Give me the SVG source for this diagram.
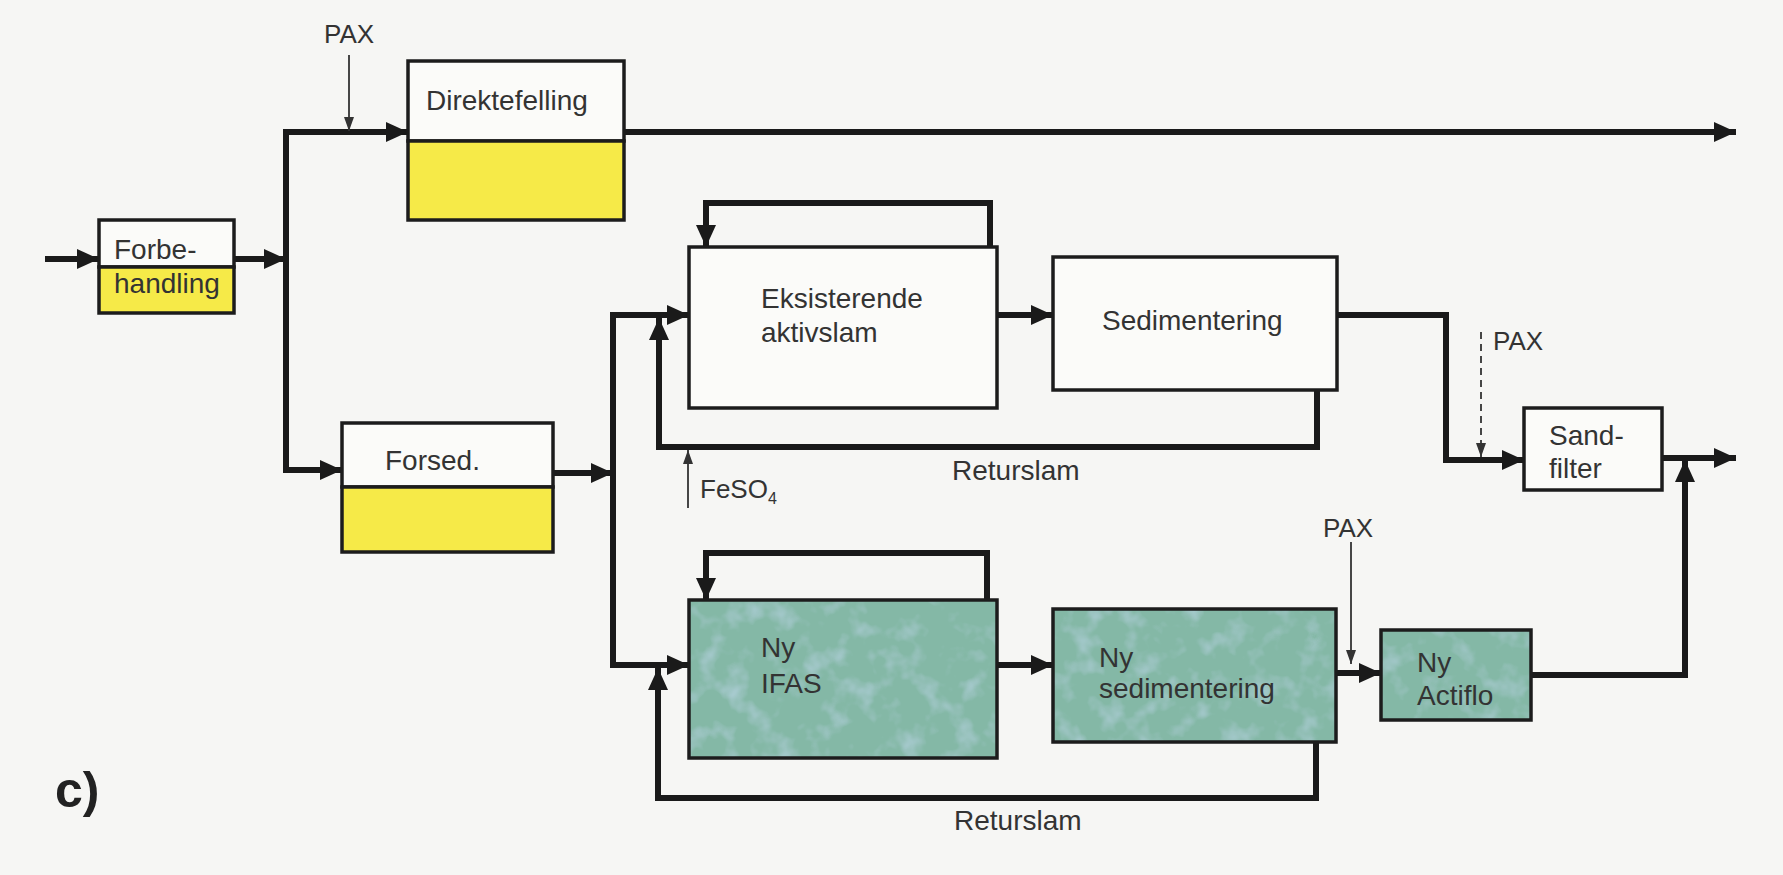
<svg xmlns="http://www.w3.org/2000/svg" width="1783" height="875" viewBox="0 0 1783 875">
  <defs>
    <style>
      .box { stroke: #1c1c1c; stroke-width: 3.5; }
      .frame { fill: none; stroke: #1c1c1c; stroke-width: 3.5; }
      .white { fill: #fbfbf9; }
      .yellow { fill: #f6ea48; }
      .mottle { fill: #84b8a6; filter: url(#mottle); }
      .lbl { font-family: "Liberation Sans", Arial, sans-serif; font-size: 28px; fill: #333; }
      .small { font-family: "Liberation Sans", Arial, sans-serif; font-size: 26px; fill: #333; }
      .flow { fill: none; stroke: #1a1a1a; stroke-width: 6; stroke-linejoin: miter; marker-end: url(#ah); }
      .thin { fill: none; stroke: #333; stroke-width: 1.8; marker-end: url(#ahs); }
      .dash { stroke-dasharray: 7 5; }
    </style>
    <marker id="ah" markerUnits="userSpaceOnUse" markerWidth="24" markerHeight="22" refX="22" refY="11" orient="auto">
      <path d="M0,1 L22,11 L0,21 Z" fill="#1a1a1a"/>
    </marker>
    <marker id="ahs" markerUnits="userSpaceOnUse" markerWidth="15" markerHeight="12" refX="14" refY="6" orient="auto">
      <path d="M0,1 L14,6 L0,11 Z" fill="#333"/>
    </marker>
    <filter id="mottle" x="0" y="0" width="1" height="1">
      <feTurbulence type="fractalNoise" baseFrequency="0.04" numOctaves="3" seed="7" result="n"/>
      <feColorMatrix in="n" type="matrix" values="0 0 0 0 0.45  0 0 0 0 0.64  0 0 0 0 0.72  1.8 0 0 0 -0.9" result="blue"/>
      <feComposite in="blue" in2="SourceGraphic" operator="atop"/>
    </filter>
  </defs>
  <rect x="0" y="0" width="1783" height="875" fill="#f6f6f4"/>

  <g id="connectors">
    <path class="flow" d="M45 259 H99"/>
    <path class="flow" d="M234 259 H286"/>
    <path class="flow" d="M286 259 V132 H408"/>
    <path class="flow" d="M286 259 V470 H342"/>
    <path class="flow" d="M624 132 H1736"/>
    <path class="thin" d="M349 55 V131"/>
    <path class="flow" d="M553 473 H613"/>
    <path class="flow" d="M613 473 V315 H689"/>
    <path class="flow" d="M613 473 V665 H689"/>
    <path class="flow" d="M990 247 V203 H706 V247"/>
    <path class="flow" d="M997 315 H1053"/>
    <path class="flow" d="M1317 390 V447 H659 V318"/>
    <path class="thin" d="M688 508 V450"/>
    <path class="flow" d="M1337 315 H1446 V460 H1524"/>
    <path class="thin dash" d="M1481 332 V457"/>
    <path class="flow" d="M1662 458 H1736"/>
    <path class="flow" d="M987 600 V553 H706 V600"/>
    <path class="flow" d="M997 665 H1053"/>
    <path class="flow" d="M1316 742 V798 H658 V668"/>
    <path class="flow" d="M1336 673 H1381"/>
    <path class="thin" d="M1351 542 V664"/>
    <path class="flow" d="M1531 675 H1685 V460"/>
  </g>

  <g id="forbehandling">
    <rect class="box white" x="99" y="220" width="135" height="47"/>
    <rect class="box yellow" x="99" y="267" width="135" height="46"/>
    <text class="lbl" x="114" y="259">Forbe-</text>
    <text class="lbl" x="114" y="293">handling</text>
  </g>

  <g id="direktefelling">
    <rect class="box white" x="408" y="61" width="216" height="80"/>
    <rect class="box yellow" x="408" y="141" width="216" height="79"/>
    <text class="lbl" x="426" y="110">Direktefelling</text>
  </g>

  <g id="forsed">
    <rect class="box white" x="342" y="423" width="211" height="64"/>
    <rect class="box yellow" x="342" y="487" width="211" height="65"/>
    <text class="lbl" x="385" y="470">Forsed.</text>
  </g>

  <g id="eksisterende">
    <rect class="box white" x="689" y="247" width="308" height="161"/>
    <text class="lbl" x="761" y="308">Eksisterende</text>
    <text class="lbl" x="761" y="342">aktivslam</text>
  </g>

  <g id="sedimentering">
    <rect class="box white" x="1053" y="257" width="284" height="133"/>
    <text class="lbl" x="1102" y="330">Sedimentering</text>
  </g>

  <g id="sandfilter">
    <rect class="box white" x="1524" y="408" width="138" height="82"/>
    <text class="lbl" x="1549" y="445">Sand-</text>
    <text class="lbl" x="1549" y="478">filter</text>
  </g>

  <g id="ny-ifas">
    <rect class="mottle" x="689" y="600" width="308" height="158"/>
    <rect class="frame" x="689" y="600" width="308" height="158"/>
    <text class="lbl" x="761" y="657">Ny</text>
    <text class="lbl" x="761" y="693">IFAS</text>
  </g>

  <g id="ny-sedimentering">
    <rect class="mottle" x="1053" y="609" width="283" height="133"/>
    <rect class="frame" x="1053" y="609" width="283" height="133"/>
    <text class="lbl" x="1099" y="667">Ny</text>
    <text class="lbl" x="1099" y="698">sedimentering</text>
  </g>

  <g id="ny-actiflo">
    <rect class="mottle" x="1381" y="630" width="150" height="90"/>
    <rect class="frame" x="1381" y="630" width="150" height="90"/>
    <text class="lbl" x="1417" y="672">Ny</text>
    <text class="lbl" x="1417" y="705">Actiflo</text>
  </g>

  <g id="labels">
    <text class="small" x="324" y="43">PAX</text>
    <text class="small" x="1493" y="350">PAX</text>
    <text class="small" x="1323" y="537">PAX</text>
    <text class="lbl" x="952" y="480">Returslam</text>
    <text class="lbl" x="954" y="830">Returslam</text>
    <text class="small" x="700" y="498">FeSO<tspan font-size="16" dy="6">4</tspan></text>
    <text x="55" y="807" font-family="Liberation Sans, Arial, sans-serif" font-weight="bold" font-size="50" fill="#222">c)</text>
  </g>
</svg>
